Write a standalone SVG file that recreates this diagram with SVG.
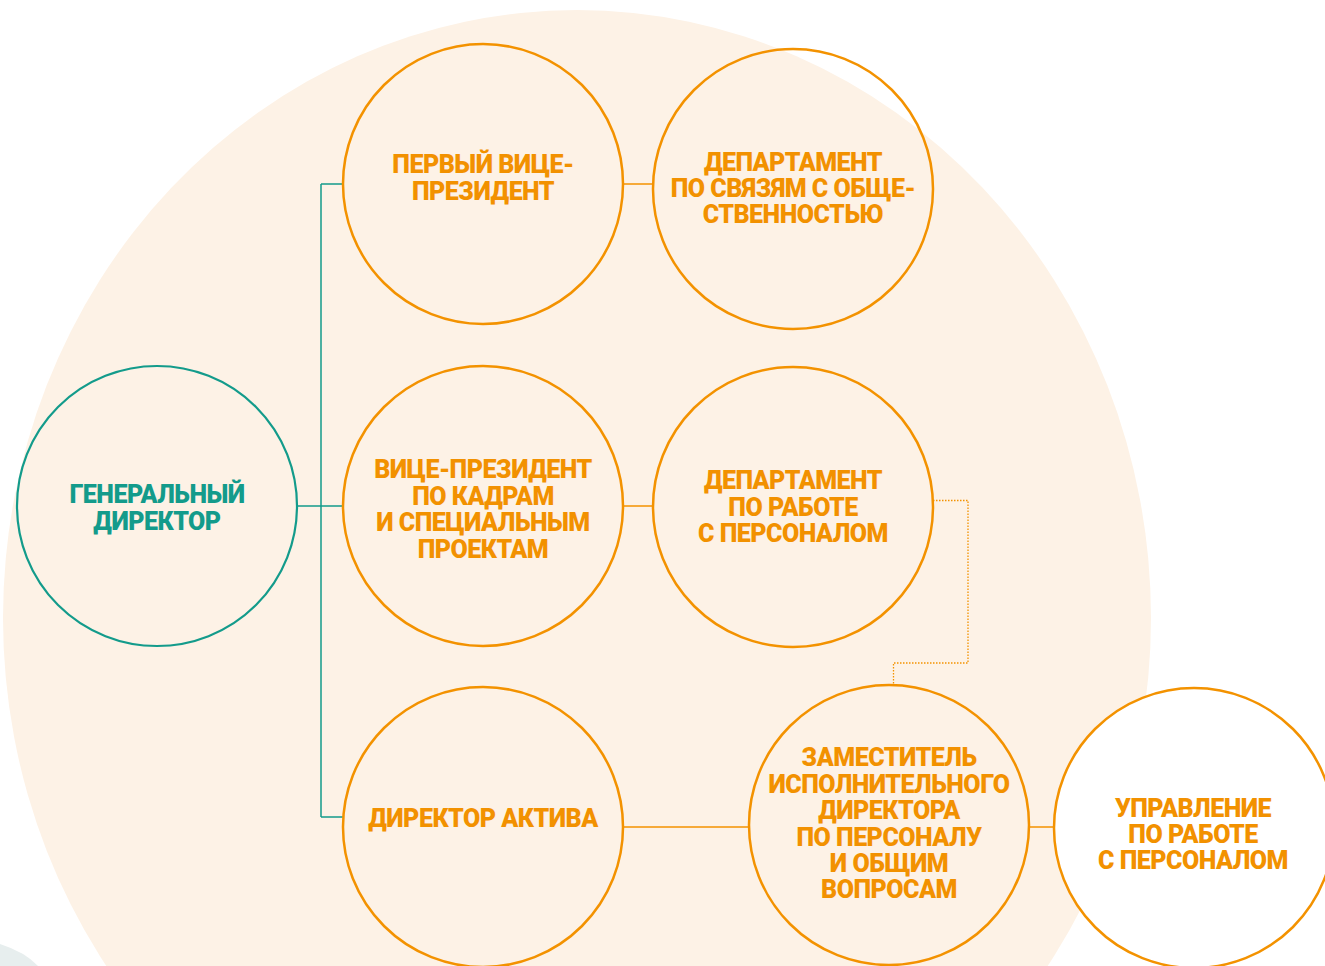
<svg xmlns="http://www.w3.org/2000/svg" width="1325" height="966" viewBox="0 0 1325 966">
<style>
.node{fill:none;stroke:#f39200;stroke-width:2.5}
.gen{fill:none;stroke:#139b8b;stroke-width:2.2}
.t{font-family:Roboto,"Liberation Sans",sans-serif;font-weight:900;font-size:25px;letter-spacing:-0.5px;text-anchor:middle;fill:#f29100}
.tg{fill:#139b8b}
.teal{fill:none;stroke:#139b8b;stroke-width:1.5}
.or{fill:none;stroke:#f39200;stroke-width:1.5}
.dot{fill:none;stroke:#f39200;stroke-width:1.3;stroke-dasharray:1.5 1.5}
</style>
<rect width="1325" height="966" fill="#ffffff"/>
<ellipse cx="577" cy="618" rx="574" ry="608" fill="#fdf2e6"/>
<path d="M0,944 Q25,952 38,966 L0,966 Z" fill="#e7eeee"/>
<g id="connectors">
<path class="teal" d="M297,506 H321 M321,184 V817 M321,184 H343 M321,506 H343 M321,817 H343"/>
<path class="or" d="M623,184 H653 M623,506 H653 M623,827 H749 M1029,827 H1053"/>
<path class="dot" d="M933,500.5 H968 V663 H893.5 V684"/>
</g>
<g id="n1">
<circle class="gen" cx="157" cy="506" r="140"/>
<text class="t tg" x="157" y="503">ГЕНЕРАЛЬНЫЙ</text>
<text class="t tg" x="157" y="530">ДИРЕКТОР</text>
</g>
<g id="n2">
<circle class="node" cx="483" cy="184" r="140"/>
<text class="t" x="483" y="173">ПЕРВЫЙ ВИЦЕ-</text>
<text class="t" x="483" y="200">ПРЕЗИДЕНТ</text>
</g>
<g id="n3">
<circle class="node" cx="793" cy="189" r="140"/>
<text class="t" x="793" y="171">ДЕПАРТАМЕНТ</text>
<text class="t" x="793" y="197">ПО СВЯЗЯМ С ОБЩЕ-</text>
<text class="t" x="793" y="223">СТВЕННОСТЬЮ</text>
</g>
<g id="n4">
<circle class="node" cx="483" cy="506" r="140"/>
<text class="t" x="483" y="478">ВИЦЕ-ПРЕЗИДЕНТ</text>
<text class="t" x="483" y="505">ПО КАДРАМ</text>
<text class="t" x="483" y="531">И СПЕЦИАЛЬНЫМ</text>
<text class="t" x="483" y="558">ПРОЕКТАМ</text>
</g>
<g id="n5">
<circle class="node" cx="793" cy="507" r="140"/>
<text class="t" x="793" y="489">ДЕПАРТАМЕНТ</text>
<text class="t" x="793" y="516">ПО РАБОТЕ</text>
<text class="t" x="793" y="542">С ПЕРСОНАЛОМ</text>
</g>
<g id="n6">
<circle class="node" cx="483" cy="827" r="140"/>
<text class="t" x="483" y="827">ДИРЕКТОР АКТИВА</text>
</g>
<g id="n7">
<circle class="node" cx="889" cy="825" r="140"/>
<text class="t" x="889" y="766">ЗАМЕСТИТЕЛЬ</text>
<text class="t" x="889" y="793">ИСПОЛНИТЕЛЬНОГО</text>
<text class="t" x="889" y="819">ДИРЕКТОРА</text>
<text class="t" x="889" y="846">ПО ПЕРСОНАЛУ</text>
<text class="t" x="889" y="872">И ОБЩИМ</text>
<text class="t" x="889" y="898">ВОПРОСАМ</text>
</g>
<g id="n8">
<circle class="node" cx="1194" cy="828" r="140" style="fill:#ffffff"/>
<text class="t" x="1193" y="817">УПРАВЛЕНИЕ</text>
<text class="t" x="1193" y="843">ПО РАБОТЕ</text>
<text class="t" x="1193" y="869">С ПЕРСОНАЛОМ</text>
</g>
</svg>
